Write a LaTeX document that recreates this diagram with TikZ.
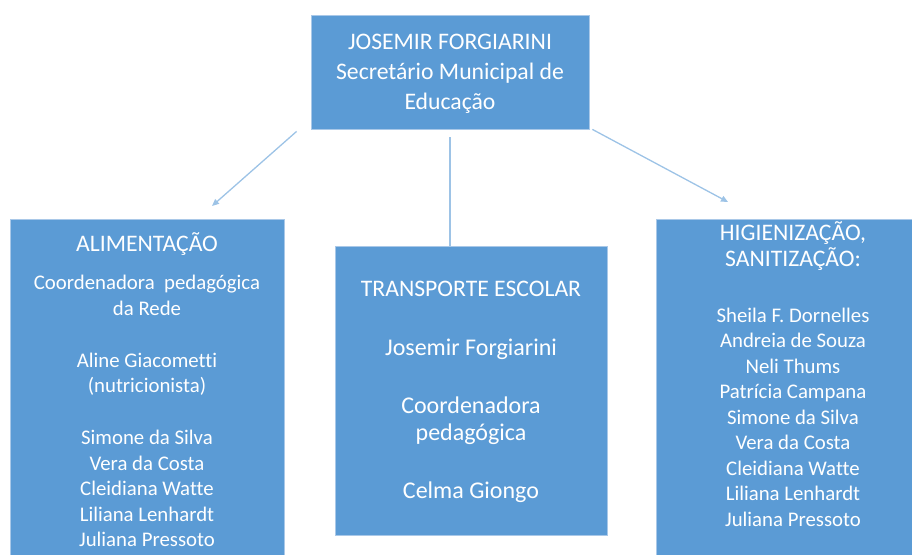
\documentclass[tikz,border=0pt]{standalone}
\usepackage{fontspec}
\setmainfont{Carlito}[Ligatures=NoCommon]
\usetikzlibrary{positioning,arrows.meta}
\definecolor{boxblue}{HTML}{5B9BD5}
\definecolor{boxline}{HTML}{A9C8E8}
\definecolor{linkblue}{HTML}{9DC3E6}
\newcommand{\headsize}{\fontsize{23.7}{30}\selectfont}
\newcommand{\namesize}{\fontsize{20.8}{25.5}\selectfont}
\newcommand{\midsize}{\fontsize{24}{27}\selectfont}
\newcommand{\topline}{\rule{0pt}{24pt}}

\begin{document}
\begin{tikzpicture}[x=1pt,y=-1pt]
\tikzset{
  box/.style={draw=boxline,line width=0.8pt,fill=boxblue,inner sep=0pt},
  txt/.style={text=white,align=center,inner sep=0pt},
  link/.style={draw=linkblue,line width=1.3pt},
  arr/.style={link,-{Triangle[length=7pt,width=6pt]}}
}
\useasboundingbox (0,0) rectangle (912,554);
\clip (0,0) rectangle (912,554);
\node[box,minimum width=278pt,minimum height=114pt] (sec) at (450,72) {};
\node[box,minimum width=274pt,minimum height=356pt] (alimbox) at (147,397) {};
\node[box,minimum width=272pt,minimum height=289pt] (transbox) at (471,390.5) {};
\node[box,minimum width=274pt,minimum height=356pt] (higbox) at (793,397) {};
\node[txt,font=\headsize,below=11pt of sec.north] (sectxt)
  {\topline JOSEMIR FORGIARINI\\Secretário Municipal de\\Educação};
\node[txt,font=\namesize,below=9pt of alimbox.north] (alimtxt)
  {\topline{\headsize ALIMENTAÇÃO}\\[12.5pt]
   Coordenadora\ \ pedagógica\\da Rede\\[26.5pt]
   Aline Giacometti\\(nutricionista)\\[26.5pt]
   Simone da Silva\\Vera da Costa\\Cleidiana Watte\\Liliana Lenhardt\\Juliana Pressoto};
\node[txt,font=\midsize,below=27pt of transbox.north] (transtxt)
  {\topline{\headsize TRANSPORTE ESCOLAR}\\[32pt]
   Josemir Forgiarini\\[31pt]
   Coordenadora\\pedagógica\\[31pt]
   Celma Giongo};
\node[txt,font=\namesize,below=-2pt of higbox.north] (higtxt)
  {\topline{\headsize HIGIENIZAÇÃO,}\\{\headsize SANITIZAÇÃO:}\\[30.5pt]
   Sheila F. Dornelles\\Andreia de Souza\\Neli Thums\\Patrícia Campana\\
   Simone da Silva\\Vera da Costa\\Cleidiana Watte\\Liliana Lenhardt\\Juliana Pressoto};
\coordinate (alimtip) at (212,206);
\coordinate (higtip) at (728,202);
\draw[arr] ([xshift=-14pt,yshift=-2pt]sec.south west) -- (alimtip);
\draw[link] ([yshift=-8pt]sec.south) -- (sec.south |- transbox.north);
\draw[arr] ([xshift=3pt]sec.south east) -- (higtip);
\end{tikzpicture}
\end{document}
